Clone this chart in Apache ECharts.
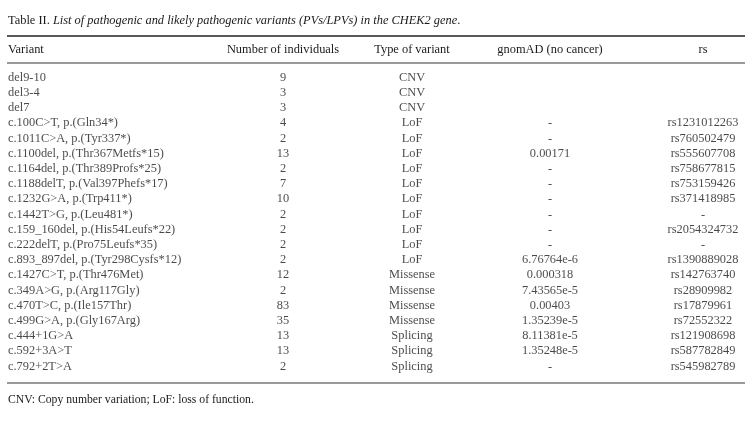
<!DOCTYPE html>
<html>
<head>
<meta charset="utf-8">
<script src="https://cdn.jsdelivr.net/npm/echarts@6/dist/echarts.min.js"></script>
<style>
  html, body { margin: 0; padding: 0; background: #fff; }
  #chartTable { width: 752px; height: 429px; }
</style>
</head>
<body>
<div id="chartTable"></div>
<script>
  // table content
  const headers = ['Variant', 'Number of individuals', 'Type of variant', 'gnomAD (no cancer)', 'rs']
  const variants = [
    'del9-10', 'del3-4', 'del7',
    'c.100C>T, p.(Gln34*)', 'c.1011C>A, p.(Tyr337*)', 'c.1100del, p.(Thr367Metfs*15)',
    'c.1164del, p.(Thr389Profs*25)', 'c.1188delT, p.(Val397Phefs*17)', 'c.1232G>A, p.(Trp411*)',
    'c.1442T>G, p.(Leu481*)', 'c.159_160del, p.(His54Leufs*22)', 'c.222delT, p.(Pro75Leufs*35)',
    'c.893_897del, p.(Tyr298Cysfs*12)', 'c.1427C>T, p.(Thr476Met)', 'c.349A>G, p.(Arg117Gly)',
    'c.470T>C, p.(Ile157Thr)', 'c.499G>A, p.(Gly167Arg)', 'c.444+1G>A', 'c.592+3A>T', 'c.792+2T>A'
  ]
  const individuals = [9, 3, 3, 4, 2, 13, 2, 7, 10, 2, 2, 2, 2, 12, 2, 83, 35, 13, 13, 2]
  const types = [
    'CNV', 'CNV', 'CNV',
    'LoF', 'LoF', 'LoF', 'LoF', 'LoF', 'LoF', 'LoF', 'LoF', 'LoF', 'LoF',
    'Missense', 'Missense', 'Missense', 'Missense',
    'Splicing', 'Splicing', 'Splicing'
  ]
  const gnomad = [
    '', '', '', '-', '-', '0.00171', '-', '-', '-', '-', '-', '-', '6.76764e-6',
    '0.000318', '7.43565e-5', '0.00403', '1.35239e-5', '8.11381e-5', '1.35248e-5', '-'
  ]
  const rsIds = [
    '', '', '', 'rs1231012263', 'rs760502479', 'rs555607708', 'rs758677815', 'rs753159426',
    'rs371418985', '-', 'rs2054324732', '-', 'rs1390889028', 'rs142763740', 'rs28909982',
    'rs17879961', 'rs72552322', 'rs121908698', 'rs587782849', 'rs545982789'
  ]

  // layout
  const colX = [8, 283, 412, 550, 703]
  const colAlign = ['left', 'center', 'center', 'center', 'center']
  const font = 'Liberation Serif'
  const ink = '#1a1a1a'
  const fs = 12.4

  const columns = [variants, individuals, types, gnomad, rsIds]

  const chart = echarts.init(document.getElementById('chartTable'), null, {renderer: 'canvas'})

  const series = columns.map(function(col, c) {
    return {
      type: 'scatter',
      symbolSize: 1,
      itemStyle: {color: 'rgba(0,0,0,0)'},
      silent: true,
      label: {
        show: true,
        position: 'inside',
        align: colAlign[c],
        verticalAlign: 'middle',
        fontFamily: font,
        fontSize: fs,
        color: ink,
        formatter: function(p) { return String(col[p.dataIndex]) }
      },
      data: variants.map(function(v, i) { return [colX[c], v] })
    }
  })

  function rule(y, color, w) {
    return {type: 'line', shape: {x1: 7, y1: y, x2: 745, y2: y}, style: {stroke: color, lineWidth: w}}
  }

  chart.setOption({
    animation: false,
    backgroundColor: '#fff',
    grid: {left: 0, right: 0, top: 70, height: 304},
    xAxis: {type: 'value', min: 0, max: 752, show: false},
    yAxis: {type: 'category', data: variants, inverse: true, show: false},
    graphic: [
      {
        type: 'text', left: 8, top: 15,
        style: {
          text: '{n|Table II. }{i|List of pathogenic and likely pathogenic variants (PVs/LPVs) in the CHEK2 gene}{n|.}',
          rich: {
            n: {fontFamily: font, fontSize: fs, fill: ink},
            i: {fontFamily: font, fontSize: fs, fontStyle: 'italic', fill: ink}
          }
        }
      },
      rule(36, '#222', 1.6),
      rule(63, '#777', 1.6),
      rule(383, '#777', 1.6)
    ].concat(headers.map(function(h, c) {
      return {
        type: 'text', x: colX[c], y: 50,
        style: {text: h, fontFamily: font, fontSize: fs, fill: ink, align: colAlign[c], verticalAlign: 'middle'}
      }
    })).concat([
      {
        type: 'text', x: 8, y: 400,
        style: {text: 'CNV: Copy number variation; LoF: loss of function.', fontFamily: font, fontSize: 11.7, fill: ink, verticalAlign: 'middle'}
      }
    ]),
    series: series
  })
</script>
</body>
</html>
